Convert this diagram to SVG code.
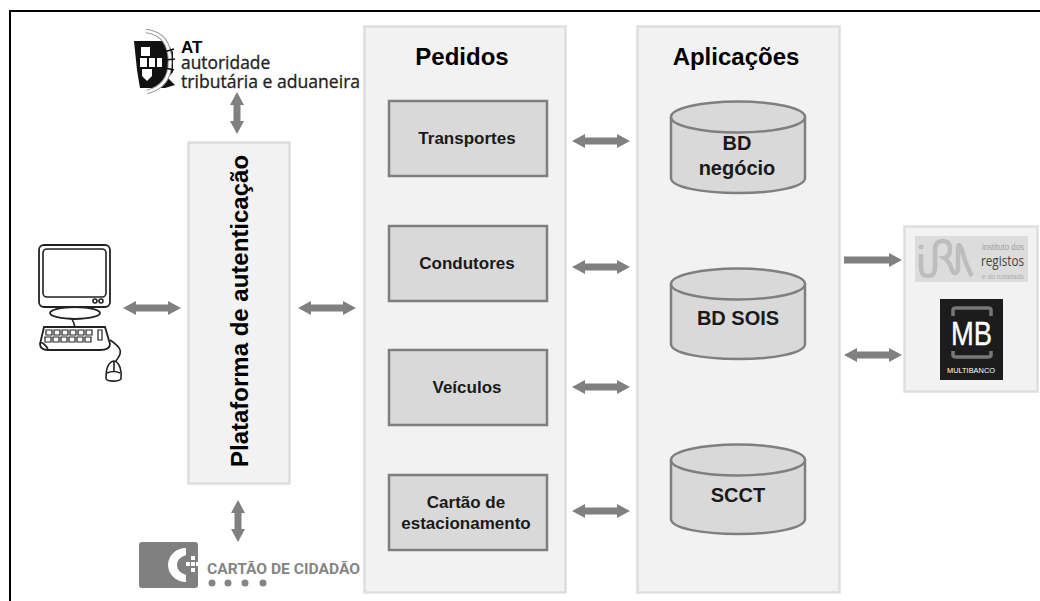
<svg xmlns="http://www.w3.org/2000/svg" width="1040" height="601" viewBox="0 0 1040 601">
<style>
text{font-family:"Liberation Sans",Arial,sans-serif;text-anchor:middle;fill:#111}
.panel{fill:#f2f2f2;stroke:#dedede;stroke-width:2.5}
.box{fill:#d9d9d9;stroke:#7f7f7f;stroke-width:2.5}
.cyl{fill:#d9d9d9;stroke:#7f7f7f;stroke-width:2.5}
.lbl{font-size:17px;font-weight:700;fill:#1a1a1a}
.ttl{font-size:24px;font-weight:700;fill:#000}
.db{font-size:20px;font-weight:700;fill:#1a1a1a}
.arr{fill:#808080}
.line{fill:none;stroke:#222;stroke-width:1.6}
.start{text-anchor:start}
</style>
<defs>
<path id="dbl" d="M0 0L13-7V-3.500H45V-7L58 0L45 7V3.500H13V7Z"/>
<path id="dblv" d="M0 0L-7 13H-3.500V29H-7L0 42L7 29H3.500V13H7Z"/>
<path id="sgl" d="M0-3.500H45V-7L58 0L45 7V3.500H0Z"/>
</defs>
<rect width="1040" height="601" fill="#fff"/>
<path d="M10 601V11H1040" fill="none" stroke="#000" stroke-width="2"/>

<g id="computer">
<rect x="39" y="245" width="71" height="62" rx="5" fill="#fff" stroke="#222" stroke-width="1.800"/>
<rect x="43" y="249" width="63" height="48" rx="4" fill="#fff" stroke="#222" stroke-width="1.600"/>
<circle cx="95" cy="301" r="2" class="line"/><circle cx="101" cy="301" r="2" class="line"/>
<path class="line" d="M65 307V310H85V307"/>
<ellipse cx="75" cy="313" rx="25" ry="6" fill="#fff" stroke="#222" stroke-width="1.800"/>
<path class="line" d="M72 319Q74 323 75 327"/>
<path d="M44 327H105L110 344Q110 350 100 350H48Q40 350 40 344Z" fill="#fff" stroke="#222" stroke-width="1.800"/>
<path class="line" d="M40 344Q42 340 48 349"/>
<path d="M46 330h6v5h-6zM54 330h6v5h-6zM62 330h6v5h-6zM70 330h6v5h-6zM78 330h6v5h-6zM86 330h6v5h-6zM45 337h6v5h-6zM53 337h6v5h-6zM61 337h6v5h-6zM69 337h6v5h-6zM77 337h6v5h-6zM85 337h6v5h-6zM98 330h4v10h-4z" fill="none" stroke="#222" stroke-width="1.200"/>
<path class="line" d="M110 340C122 348 122 352 118 358C115 362 115 362 115 363"/>
<path d="M114 361C108 362 106 370 106 378C106 382 118 382 121 379C122 372 120 362 114 361Z" fill="#fff" stroke="#222" stroke-width="1.600"/>
<path class="line" d="M107 373Q114 370 120 373M114 361V371"/>
</g>

<g id="at-logo">
<path d="M134 41H166L173 52V72L168 78L175 85L165 88H140L137 70Z" fill="#111"/>
<path d="M146 31Q170 34 170 62Q170 86 147 92" fill="none" stroke="#999" stroke-width="4.500"/>
<path d="M146 31Q170 34 170 62Q170 86 147 92" fill="none" stroke="#fff" stroke-width="2.500"/>
<path d="M164 52L174 49M165 60L175 59M165 68L174 70" fill="none" stroke="#111" stroke-width="1.600"/>
<rect x="141" y="47" width="9" height="9" fill="#fff"/><rect x="140" y="58" width="7" height="9" fill="#fff"/><rect x="149" y="58" width="6" height="9" fill="#fff"/><rect x="157" y="58" width="5" height="9" fill="#fff"/><path d="M142 69h10v7l-5 5-5-5z" fill="#fff"/>
<text class="start" x="181" y="53" style="font-size:17px;font-weight:700;fill:#000">AT</text>
<text class="start" x="181" y="69" style="font-size:17.400px;fill:#222;font-family:'Open Sans','Liberation Sans',sans-serif;stroke:#222;stroke-width:.3">autoridade</text>
<text class="start" x="181" y="88" style="font-size:17.600px;fill:#222;font-family:'Open Sans','Liberation Sans',sans-serif;stroke:#222;stroke-width:.3">tributária e aduaneira</text>
</g>

<g id="plataforma">
<rect class="panel" x="188.500" y="142.500" width="101" height="341"/>
<text transform="translate(248 311) rotate(-90)" style="font-size:24px;font-weight:700;fill:#000">Plataforma de autenticação</text>
</g>

<g id="cc-logo">
<rect x="139" y="542" width="59" height="46" rx="3" fill="#808080"/>
<path d="M186 548A18 17 0 0 0 186 582V575Q177 572 177 565Q177 558 186 555Z" fill="#fff"/>
<path d="M191 556h4v4h-4zM186 562h4v4h-4zM191 562h4v4h-4zM196 562h4v4h-4zM191 568h4v4h-4z" fill="#fff"/>
<text class="start" x="207" y="574" style="font-size:15px;font-weight:700;fill:#858585;font-family:'Roboto','Liberation Sans',sans-serif" textLength="153" lengthAdjust="spacingAndGlyphs">CARTÃO DE CIDADÃO</text>
<g fill="#858585"><circle cx="212" cy="583" r="3.500"/><circle cx="228" cy="583" r="3.500"/><circle cx="245" cy="583" r="3.500"/><circle cx="263" cy="583" r="3.500"/></g>
</g>

<g id="pedidos">
<rect class="panel" x="364.500" y="26.500" width="201" height="566"/>
<text class="ttl" x="462" y="65">Pedidos</text>
</g>
<g id="transportes"><rect class="box" x="389" y="101" width="158" height="75"/><text class="lbl" x="467" y="144">Transportes</text></g>
<g id="condutores"><rect class="box" x="389" y="226" width="158" height="75"/><text class="lbl" x="467" y="269">Condutores</text></g>
<g id="veiculos"><rect class="box" x="389" y="350" width="158" height="75"/><text class="lbl" x="467" y="393">Veículos</text></g>
<g id="cartao"><rect class="box" x="389" y="475" width="158" height="75"/><text class="lbl" x="466" y="508">Cartão de</text><text class="lbl" x="466" y="529">estacionamento</text></g>

<g id="aplicacoes">
<rect class="panel" x="637.500" y="26.500" width="202" height="566"/>
<text class="ttl" x="736" y="65">Aplicações</text>
</g>
<g id="bd-negocio">
<path class="cyl" d="M671 117V178C671 187 701 193 738 193C775 193 805 187 805 178V117"/>
<ellipse class="cyl" cx="738" cy="117" rx="67" ry="15.500"/>
<text class="db" x="737" y="150">BD</text><text class="db" x="737" y="175">negócio</text>
</g>
<g id="bd-sois">
<path class="cyl" d="M671 284V344C671 353 701 359 738 359C775 359 805 353 805 344V284"/>
<ellipse class="cyl" cx="738" cy="284" rx="67" ry="15.500"/>
<text class="db" x="738" y="325">BD SOIS</text>
</g>
<g id="scct">
<path class="cyl" d="M671 460V519C671 528 701 534 738 534C775 534 805 528 805 519V460"/>
<ellipse class="cyl" cx="738" cy="460" rx="67" ry="15.500"/>
<text class="db" x="738" y="502">SCCT</text>
</g>

<g id="externos">
<rect class="panel" x="904.500" y="226.500" width="133" height="165"/>
<g id="irn">
<rect x="915" y="236" width="113" height="46" fill="#dcdcdc"/>
<circle cx="921" cy="247" r="2.500" fill="#bdbdbd"/>
<path d="M921 254V268Q921 276 928 276Q935 276 935 268V250Q935 241 943 241Q950 241 950 249Q950 257 944 258Q950 262 952 270Q955 276 958 270V250Q958 240 962 250Q966 266 972 276" fill="none" stroke="#bdbdbd" stroke-width="4.500"/>
<text class="start" x="982" y="250" style="font-size:9.500px;fill:#a0a0a0" textLength="42" lengthAdjust="spacingAndGlyphs">instituto dos</text>
<text class="start" x="981" y="266" style="font-size:15px;fill:#444;font-family:'Open Sans','Liberation Sans',sans-serif" textLength="43" lengthAdjust="spacingAndGlyphs">registos</text>
<text class="start" x="982" y="279" style="font-size:8px;fill:#aaa" textLength="42" lengthAdjust="spacingAndGlyphs">e do notariado</text>
</g>
<g id="mb">
<rect x="940" y="299" width="63" height="81" fill="#1c1c1c"/>
<path d="M953 316V310Q953 308 956 308H988Q991 308 991 310V316M953 351V355Q953 357 956 357H988Q991 357 991 355V351" fill="none" stroke="#777" stroke-width="3.500"/>
<text x="971.500" y="345" style="font-size:34px;fill:#fff;stroke:#fff;stroke-width:.4" textLength="41" lengthAdjust="spacingAndGlyphs">MB</text>
<text x="971" y="373" style="font-size:8px;fill:#fff" textLength="48" lengthAdjust="spacingAndGlyphs">MULTIBANCO</text>
</g>
</g>

<g id="connectors" class="arr">
<use href="#dbl" x="123" y="308"/>
<use href="#dbl" x="298" y="308"/>
<use href="#dblv" x="237" y="92"/>
<use href="#dblv" x="238" y="500"/>
<use href="#dbl" x="572" y="141"/>
<use href="#dbl" x="572" y="267"/>
<use href="#dbl" x="572" y="387"/>
<use href="#dbl" x="572" y="511"/>
<use href="#sgl" x="844" y="260"/>
<use href="#dbl" x="844" y="355"/>
</g>
</svg>
